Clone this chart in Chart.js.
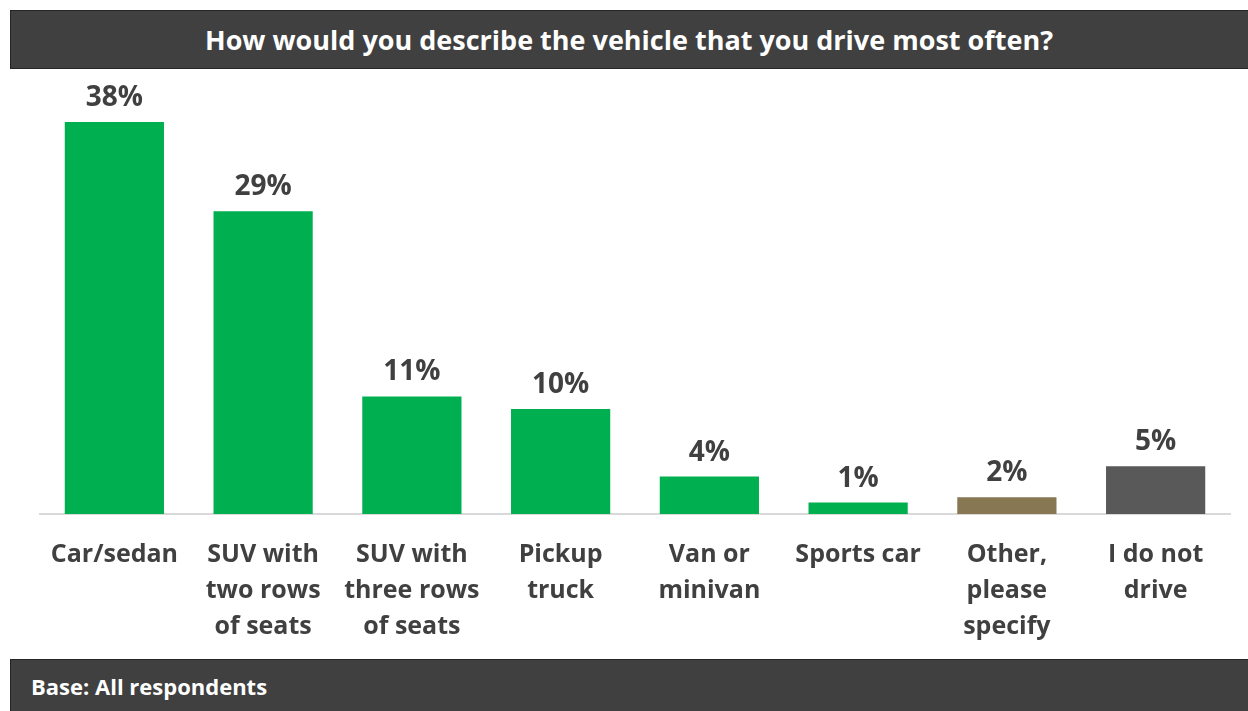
<!DOCTYPE html>
<html>
<head>
<meta charset="utf-8">
<script src="https://cdn.jsdelivr.net/npm/chart.js@4/dist/chart.umd.min.js"></script>
<style>
  html, body { margin: 0; padding: 0; background: #fff; }
  #wrap { position: relative; width: 1248px; height: 711px; overflow: hidden; }
  #vehicleChart { position: absolute; left: 0; top: 0; }
  .bar {
    position: absolute; left: 10px; width: 1250px; background: #404040;
    border: 1px solid #262626; color: #fff; font-family: "Open Sans", sans-serif; font-weight: 700;
    box-sizing: border-box;
  }
  #title { top: 10px; height: 59px; line-height: 58px; text-align: center; font-size: 27px; padding-right: 12px; }
  #footer { top: 659px; height: 60px; line-height: 52px; font-size: 22px; padding-left: 20px; }
</style>
</head>
<body>
<div id="wrap">
  <canvas id="vehicleChart" width="1248" height="711"></canvas>
  <div class="bar" id="title">How would you describe the vehicle that you drive most often?</div>
  <div class="bar" id="footer">Base: All respondents</div>
</div>
<script>
// chart data
const categories = [
    ["Car/sedan"],
    ["SUV with", "two rows", "of seats"],
    ["SUV with", "three rows", "of seats"],
    ["Pickup", "truck"],
    ["Van or", "minivan"],
    ["Sports car"],
    ["Other,", "please", "specify"],
    ["I do not", "drive"],
];
const shares = [37.7, 29.1, 11.3, 10.1, 3.6, 1.1, 1.6, 4.6];
const shareLabels = ["38%", "29%", "11%", "10%", "4%", "1%", "2%", "5%"];
const barColors = ["#00B050", "#00B050", "#00B050", "#00B050", "#00B050", "#00B050", "#877752", "#595959"];

// labels above each bar
const valueLabels = {
    id: "valueLabels",
    afterDatasetsDraw(chart) {
        const ctx = chart.ctx;
        const meta = chart.getDatasetMeta(0);
        ctx.save();
        ctx.font = "bold 28px 'Open Sans', sans-serif";
        ctx.fillStyle = "#404040";
        ctx.textAlign = "center";
        ctx.textBaseline = "bottom";
        meta.data.forEach((bar, i) => {
            ctx.fillText(shareLabels[i], bar.x, bar.y - 10);
        });
        ctx.restore();
    },
};

const ctx = document.getElementById("vehicleChart").getContext("2d");
new Chart(ctx, {
    type: "bar",
    data: {
        labels: categories,
        datasets: [
            {
                data: shares,
                backgroundColor: barColors,
                borderWidth: 0,
                barPercentage: 0.667,
                categoryPercentage: 1,
            },
        ],
    },
    options: {
        responsive: false,
        animation: false,
        layout: { padding: { left: 40, right: 18, top: 98, bottom: 0 } },
        plugins: {
            legend: { display: false },
            tooltip: { enabled: false },
        },
        scales: {
            y: { display: false, min: 0, max: 40 },
            x: {
                afterFit: (scale) => { scale.height = 197; },
                grid: { display: false, drawTicks: false },
                border: { color: "#d9d9d9", width: 2 },
                ticks: {
                    padding: 23,
                    color: "#404040",
                    maxRotation: 0,
                    autoSkip: false,
                    font: { family: "Open Sans", size: 25, weight: "bold", lineHeight: 1.44 },
                },
            },
        },
    },
    plugins: [valueLabels],
});
</script>
</body>
</html>
